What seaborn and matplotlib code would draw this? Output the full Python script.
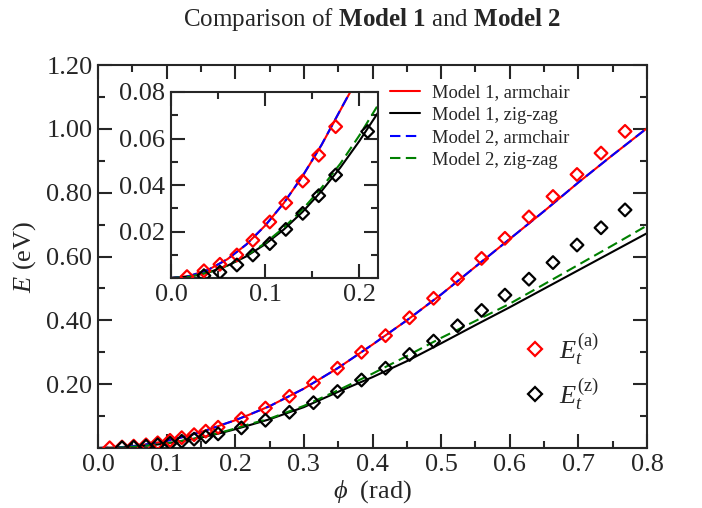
import numpy as np
import pandas as pd
import matplotlib
matplotlib.use("Agg")
import matplotlib.pyplot as plt
from matplotlib.ticker import MultipleLocator, FixedLocator, FormatStrFormatter
from matplotlib.lines import Line2D
import seaborn as sns

# ---------------- data ----------------
phi_line = [0.00, 0.02, 0.04, 0.06, 0.08, 0.10, 0.12, 0.14, 0.16, 0.18, 0.20, 0.22,
            0.25, 0.30, 0.35, 0.40, 0.45, 0.50, 0.55, 0.60, 0.65, 0.70, 0.75, 0.80]
m1_armchair = [0.0, 0.0009, 0.0036, 0.0081, 0.0144, 0.0225, 0.0323, 0.0439, 0.0572, 0.0722, 0.0870, 0.1040,
               0.131, 0.186, 0.251, 0.324, 0.400, 0.481, 0.568, 0.655, 0.742, 0.832, 0.918, 1.002]
m1_zigzag = [0.0, 0.0006, 0.0024, 0.0053, 0.0093, 0.0145, 0.0209, 0.0285, 0.0374, 0.0475, 0.0588, 0.0711,
             0.090, 0.128, 0.176, 0.222, 0.272, 0.328, 0.385, 0.441, 0.499, 0.557, 0.615, 0.673]
m2_armchair = [0.0, 0.0009, 0.0036, 0.0081, 0.0144, 0.0225, 0.0323, 0.0440, 0.0573, 0.0723, 0.0871, 0.1041,
               0.131, 0.186, 0.251, 0.324, 0.400, 0.481, 0.568, 0.655, 0.742, 0.832, 0.918, 1.002]
m2_zigzag = [0.0, 0.0006, 0.0024, 0.0054, 0.0096, 0.0150, 0.0217, 0.0296, 0.0388, 0.0492, 0.0612, 0.0744,
             0.092, 0.132, 0.181, 0.233, 0.288, 0.345, 0.398, 0.452, 0.513, 0.574, 0.635, 0.697]

phi_a = [0.017, 0.035, 0.052, 0.070, 0.087, 0.105, 0.122, 0.140, 0.157, 0.175,
         0.209, 0.244, 0.279, 0.314, 0.349, 0.384, 0.419, 0.454, 0.489, 0.524,
         0.559, 0.593, 0.628, 0.663, 0.698, 0.733, 0.768]
E_a = [0.0006, 0.0031, 0.0059, 0.0099, 0.0162, 0.0241, 0.0323, 0.0417, 0.0528, 0.0651,
       0.092, 0.125, 0.162, 0.204, 0.250, 0.300, 0.352, 0.408, 0.469, 0.530,
       0.594, 0.657, 0.724, 0.788, 0.857, 0.924, 0.992]
phi_z = [0.035, 0.052, 0.070, 0.087, 0.105, 0.122, 0.140, 0.157, 0.175,
         0.209, 0.244, 0.279, 0.314, 0.349, 0.384, 0.419, 0.454, 0.489, 0.524,
         0.559, 0.593, 0.628, 0.663, 0.698, 0.733, 0.768]
E_z = [0.0010, 0.0025, 0.0056, 0.0099, 0.0148, 0.0209, 0.0278, 0.0354, 0.0443,
       0.0630, 0.087, 0.112, 0.142, 0.177, 0.213, 0.250, 0.293, 0.335, 0.383,
       0.431, 0.479, 0.529, 0.581, 0.636, 0.690, 0.746]

line_labels = ["Model 1, armchair", "Model 1, zig-zag", "Model 2, armchair", "Model 2, zig-zag"]
main_yticks = [0.20, 0.40, 0.60, 0.80, 1.00, 1.20]
inset_yticks = [0.02, 0.04, 0.06, 0.08]

# ---------------- style ----------------
sns.set_style("ticks")
plt.rcParams["font.family"] = ["Liberation Serif", "DejaVu Serif"]
plt.rcParams["mathtext.fontset"] = "custom"
plt.rcParams["mathtext.rm"] = "Liberation Serif"
plt.rcParams["mathtext.it"] = "Liberation Serif:italic"
plt.rcParams["mathtext.bf"] = "Liberation Serif:bold"
plt.rcParams["axes.linewidth"] = 1.5

TICK_FS = 19

fig = plt.figure(figsize=(7.02, 5.08), dpi=100)
ax = fig.add_axes([98 / 702, 1 - 448 / 508, (647 - 98) / 702, (448 - 65) / 508])
axi = fig.add_axes([171 / 702, 1 - 278 / 508, (378 - 171) / 702, (278 - 92) / 508])

lines_df = pd.DataFrame({"phi": phi_line, "m1a": m1_armchair, "m1z": m1_zigzag,
                         "m2a": m2_armchair, "m2z": m2_zigzag})
specs = [("m1a", "red", "-"), ("m1z", "black", "-"), ("m2a", "blue", (0, (5, 2.6))), ("m2z", "green", (0, (5, 2.6)))]


def draw(a):
    for (col, c, ls), lab in zip(specs, line_labels):
        sns.lineplot(data=lines_df, x="phi", y=col, ax=a, color=c, linestyle=ls, linewidth=1.5,
                     label=lab, legend=False, sort=False, estimator=None)
    sns.scatterplot(x=phi_a, y=E_a, ax=a, marker="D", s=42, facecolor="none", edgecolor="red",
                    linewidth=1.6, color="red", zorder=5, legend=False)
    sns.scatterplot(x=phi_z, y=E_z, ax=a, marker="D", s=42, facecolor="none", edgecolor="black",
                    linewidth=1.6, color="black", zorder=5, legend=False)


draw(ax)
draw(axi)

for a in (ax, axi):
    a.set_xlabel("")
    a.set_ylabel("")
    a.tick_params(which="both", direction="in", top=True, right=True, width=1.5,
                  labelsize=TICK_FS, pad=4)
    a.tick_params(which="major", length=10)
    a.tick_params(which="minor", length=5)
    for s in a.spines.values():
        s.set_linewidth(1.5)
        s.set_visible(True)

ax.set_xlim(0, 0.8)
ax.set_ylim(0, 1.2)
ax.xaxis.set_major_locator(MultipleLocator(0.1))
ax.xaxis.set_minor_locator(MultipleLocator(0.05))
ax.xaxis.set_major_formatter(FormatStrFormatter("%.1f"))
ax.yaxis.set_major_locator(FixedLocator(main_yticks))
ax.yaxis.set_minor_locator(MultipleLocator(0.1))
ax.yaxis.set_major_formatter(FormatStrFormatter("%.2f"))

axi.set_xlim(0, 0.22)
axi.set_ylim(0, 0.08)
axi.xaxis.set_major_locator(MultipleLocator(0.1))
axi.xaxis.set_minor_locator(MultipleLocator(0.05))
axi.xaxis.set_major_formatter(FormatStrFormatter("%.1f"))
axi.yaxis.set_major_locator(FixedLocator(inset_yticks))
axi.yaxis.set_minor_locator(MultipleLocator(0.01))
axi.yaxis.set_major_formatter(FormatStrFormatter("%.2f"))
axi.set_facecolor("white")

ax.set_title(r"Comparison of $\mathbf{Model\ 1}$ and $\mathbf{Model\ 2}$", fontsize=18, pad=28)
ax.set_xlabel(r"$\phi$  (rad)", fontsize=19, labelpad=2)
ax.set_ylabel(r"$E$ (eV)", fontsize=19, labelpad=6)

# line legend
handles = [Line2D([], [], color=c, linestyle=ls, linewidth=1.5) for (_, c, ls) in specs]
leg1 = ax.legend(handles, line_labels, loc="upper left", bbox_to_anchor=(292 / 549, 1 - 19 / 383),
                 frameon=False, fontsize=13.3, handlelength=1.6, handletextpad=0.65,
                 labelspacing=0.3, borderaxespad=0, borderpad=0)
ax.add_artist(leg1)

mh = [Line2D([], [], linestyle="none", marker="D", markersize=7, markerfacecolor="none",
             markeredgecolor=c, markeredgewidth=1.6) for c in ("red", "black")]
ax.legend(mh, [r"$E_t^{\mathrm{(a)}}$", r"$E_t^{\mathrm{(z)}}$"], loc="upper left",
          bbox_to_anchor=(424 / 549, 1 - 266 / 383), frameon=False, fontsize=19,
          handlelength=1.0, handletextpad=0.4, labelspacing=0.35, borderaxespad=0, borderpad=0)

fig.savefig("out.png", dpi=100)
